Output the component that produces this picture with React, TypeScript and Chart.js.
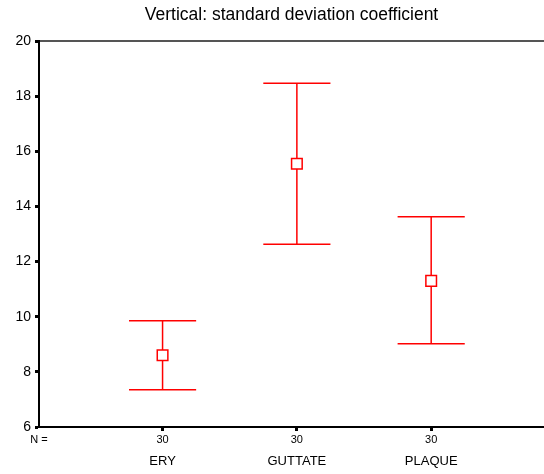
import React, { useEffect, useRef } from "react";
import { Chart, registerables } from "chart.js";

Chart.register(...registerables);

const categories = ["ERY", "GUTTATE", "PLAQUE"];
const nLabels = ["30", "30", "30"];
const means = [8.6, 15.55, 11.3];
const upper = [9.85, 18.47, 13.63];
const lower = [7.35, 12.63, 9.02];
const yTicks = [6, 8, 10, 12, 14, 16, 18, 20];
const titleText = "Vertical: standard deviation coefficient";

const X_MIN = 0.08;
const X_MAX = 3.84;
const CAP_HALF = 0.25;
const RED = "#ff0000";
const FONT = "'Liberation Sans', Arial, sans-serif";
const TITLE_SIZE = 17.5;
const TITLE_PAD = 5;

const errorBars = {
  id: "errorBars",
  beforeDatasetsDraw(chart: any) {
    const { ctx, scales } = chart;
    const xs = scales.x;
    const ys = scales.y;
    ctx.save();
    ctx.strokeStyle = RED;
    ctx.lineWidth = 1.5;
    for (let i = 0; i < categories.length; i++) {
      const cx = xs.getPixelForValue(i + 1);
      const x0 = xs.getPixelForValue(i + 1 - CAP_HALF);
      const x1 = xs.getPixelForValue(i + 1 + CAP_HALF);
      const yu = ys.getPixelForValue(upper[i]);
      const yl = ys.getPixelForValue(lower[i]);
      ctx.beginPath();
      ctx.moveTo(cx, yu);
      ctx.lineTo(cx, yl);
      ctx.moveTo(x0, yu);
      ctx.lineTo(x1, yu);
      ctx.moveTo(x0, yl);
      ctx.lineTo(x1, yl);
      ctx.stroke();
    }
    ctx.restore();
  },
};

const noPad = (s: any) => {
  s.paddingLeft = 0;
  s.paddingRight = 0;
};

export default function App() {
  const ref = useRef<HTMLCanvasElement | null>(null);
  useEffect(() => {
    document.body.style.margin = "0";
    const canvas = ref.current!;
    const chart = new Chart(canvas, {
      type: "scatter",
      data: {
        datasets: [
          {
            data: means.map((m, i) => ({ x: i + 1, y: m })),
            pointStyle: "rect",
            pointRadius: 7.5,
            borderColor: RED,
            backgroundColor: "#ffffff",
            borderWidth: 1.5,
          },
        ],
      },
      options: {
        responsive: false,
        animation: false,
        layout: { padding: 0, autoPadding: false },
        plugins: {
          legend: { display: false },
          tooltip: { enabled: false },
          title: {
            display: true,
            fullSize: false,
            text: titleText,
            color: "#000",
            font: { family: FONT, size: TITLE_SIZE, weight: "normal", lineHeight: 1.2 },
            padding: { top: TITLE_PAD, bottom: 0 },
          },
        },
        scales: {
          xTop: {
            type: "linear",
            position: "top",
            min: X_MIN,
            max: X_MAX,
            ticks: { display: false },
            grid: { display: false, drawTicks: false },
            border: { display: true, color: "#555", width: 2 },
            afterFit: (s: any) => {
              s.height = 41 - (TITLE_PAD + TITLE_SIZE * 1.2);
              noPad(s);
            },
          },
          x: {
            type: "linear",
            position: "bottom",
            weight: 1,
            min: X_MIN,
            max: X_MAX,
            afterBuildTicks: (s: any) => {
              s.ticks = [{ value: X_MIN }, ...nLabels.map((_, i) => ({ value: i + 1 }))];
            },
            ticks: {
              autoSkip: false,
              maxRotation: 0,
              padding: 2,
              color: "#000",
              font: { family: FONT, size: 11 },
              callback: (v: any) => {
                const n = Number(v);
                if (n < 0.5) return "N =";
                return nLabels[Math.round(n) - 1];
              },
            },
            grid: {
              display: true,
              drawOnChartArea: false,
              drawTicks: true,
              tickLength: 4,
              tickWidth: 3,
              color: (c: any) => (c.tick && c.tick.value < 0.5 ? "rgba(0,0,0,0)" : "#000"),
            },
            border: { display: true, color: "#000", width: 2 },
            afterFit: (s: any) => {
              s.height = 20;
              noPad(s);
            },
          },
          xCat: {
            type: "linear",
            position: "bottom",
            weight: 2,
            min: X_MIN,
            max: X_MAX,
            afterBuildTicks: (s: any) => {
              s.ticks = categories.map((_, i) => ({ value: i + 1 }));
            },
            ticks: {
              autoSkip: false,
              maxRotation: 0,
              padding: 7,
              color: "#000",
              font: { family: FONT, size: 13 },
              callback: (v: any) => categories[Math.round(Number(v)) - 1],
            },
            grid: { display: false, drawTicks: false },
            border: { display: false },
            afterFit: (s: any) => {
              s.height = 27;
              noPad(s);
            },
          },
          y: {
            type: "linear",
            position: "left",
            min: 6,
            max: 20,
            afterBuildTicks: (s: any) => {
              s.ticks = yTicks.map((v) => ({ value: v }));
            },
            ticks: {
              padding: 4,
              color: "#000",
              font: { family: FONT, size: 14 },
            },
            grid: {
              display: true,
              drawOnChartArea: false,
              drawTicks: true,
              tickLength: 4,
              tickWidth: 3,
              color: "#000",
            },
            border: { display: true, color: "#000", width: 2 },
            afterFit: (s: any) => {
              s.width = 39;
              s.paddingTop = 0;
              s.paddingBottom = 0;
            },
          },
        },
      },
      plugins: [errorBars],
    });
    return () => chart.destroy();
  }, []);
  return <canvas ref={ref} width={544} height={474} style={{ display: "block" }} />;
}
